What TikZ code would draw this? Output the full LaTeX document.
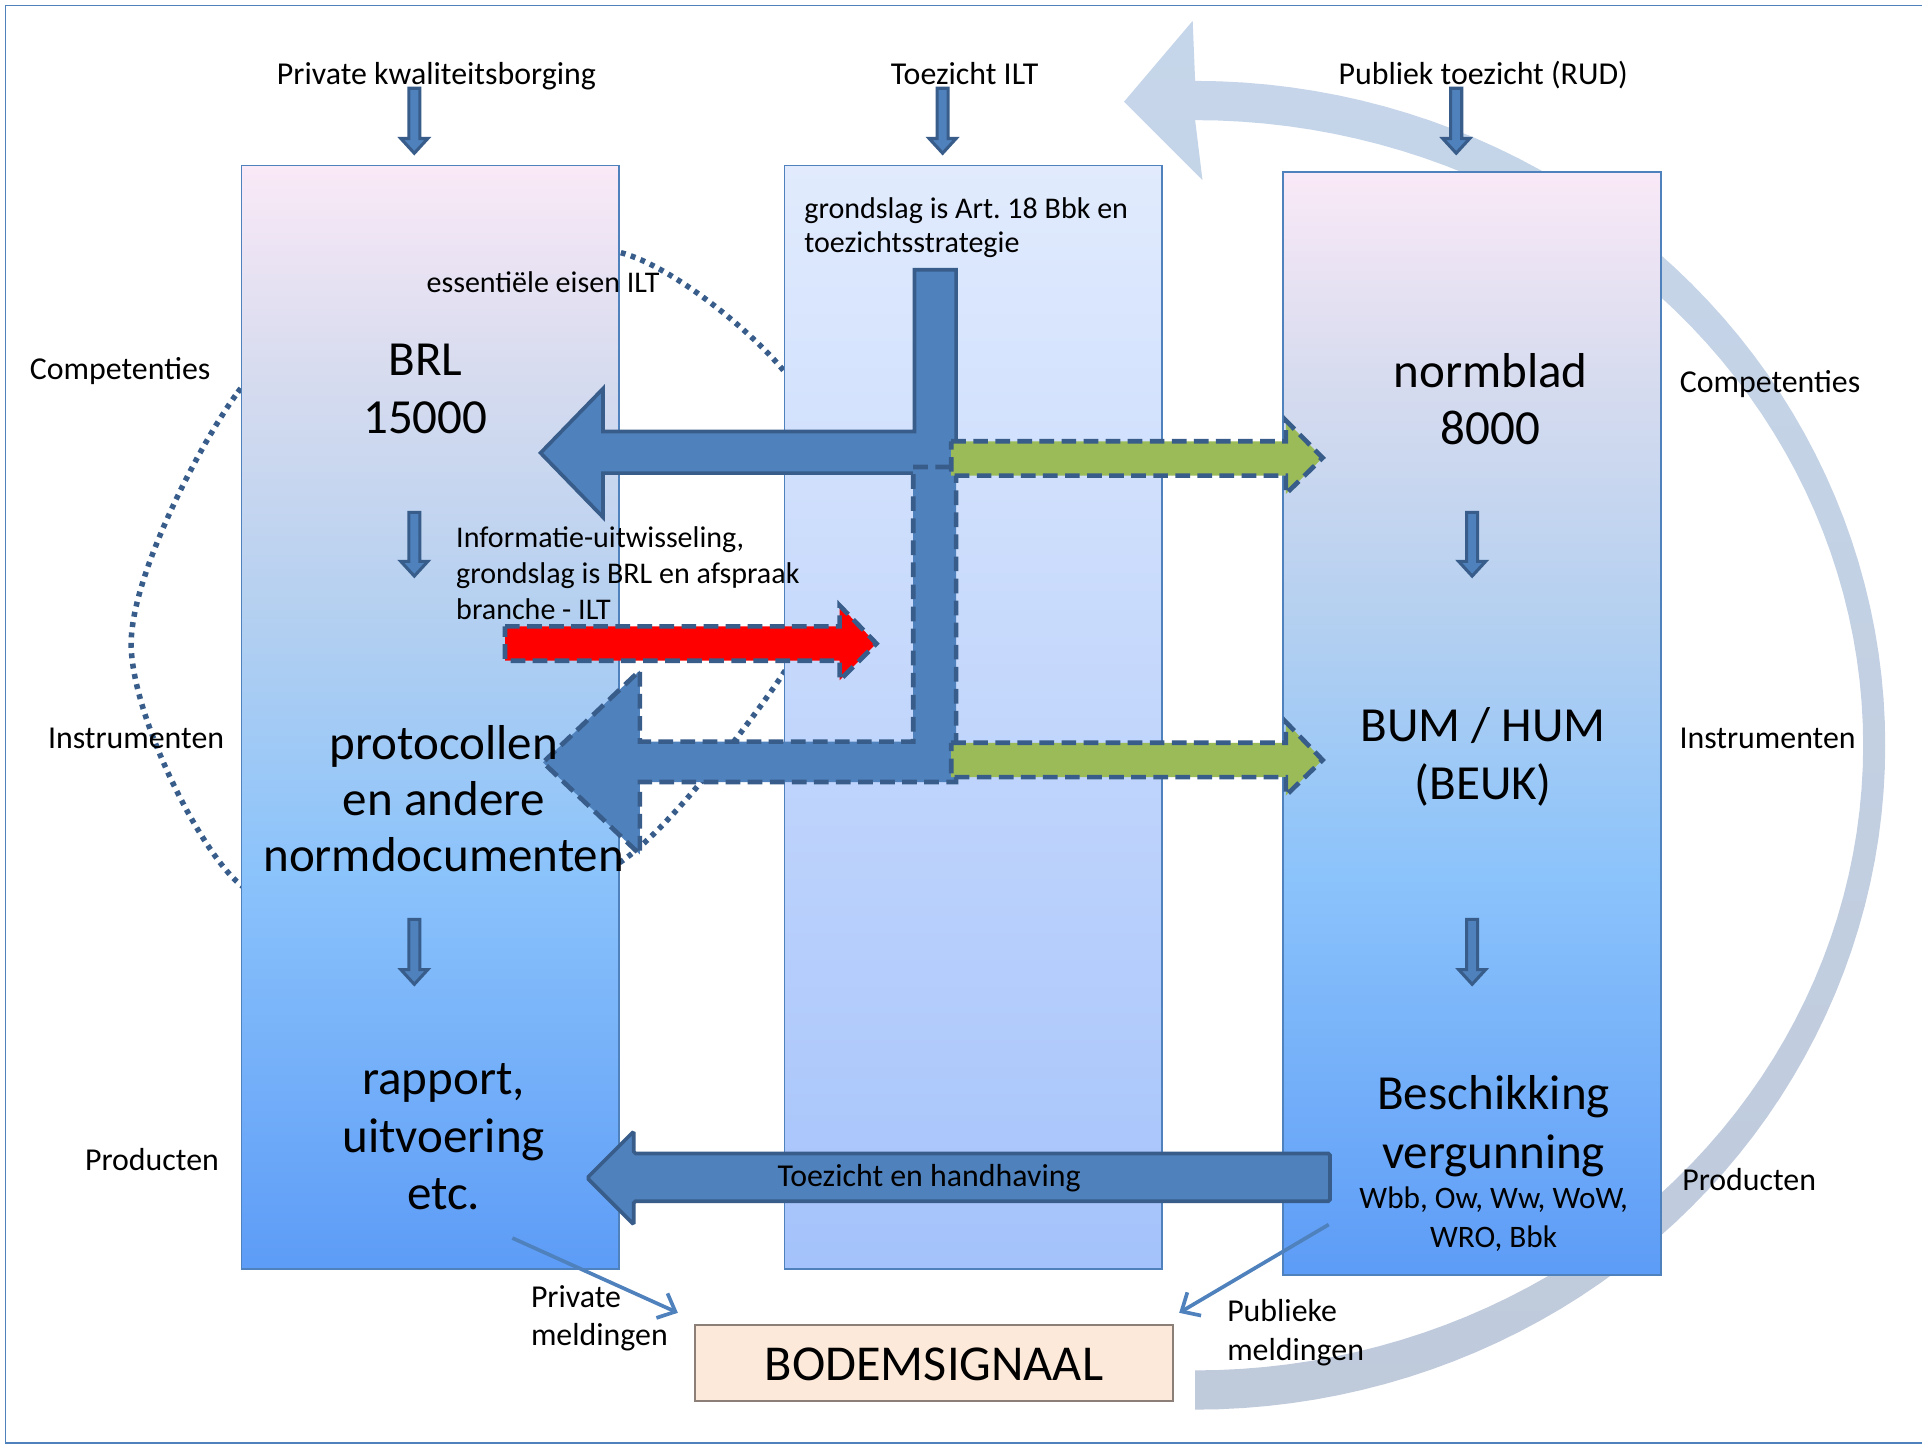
\documentclass[tikz,border=0pt]{standalone}
\usepackage{fontspec}
\setmainfont{Carlito}
\usetikzlibrary{arrows.meta}
\frenchspacing
\definecolor{boxblue}{HTML}{4F81BD}
\definecolor{arrline}{HTML}{385D8A}
\definecolor{grn}{HTML}{9BBB59}
\definecolor{bandtop}{HTML}{C6D6EA}
\definecolor{bandbot}{HTML}{BFCADB}
\definecolor{bodem}{HTML}{FDE9D9}
\definecolor{bodemline}{HTML}{8C7F78}
\definecolor{g1}{HTML}{5D9CF7}
\definecolor{g2}{HTML}{8BC3FB}
\definecolor{g3}{HTML}{B5D0F0}
\definecolor{g4}{HTML}{D8DCEF}
\definecolor{g5}{HTML}{FAE9F7}
\definecolor{m1}{HTML}{A4C2FB}
\definecolor{m2}{HTML}{E1EBFD}
\pgfdeclareverticalshading{sideshade}{100bp}{color(0bp)=(g1); color(25bp)=(g1); color(43bp)=(g2); color(55bp)=(g3); color(66bp)=(g4); color(75bp)=(g5); color(100bp)=(g5)}
\pgfdeclareverticalshading{midshade}{100bp}{color(0bp)=(m1); color(25bp)=(m1); color(75bp)=(m2); color(100bp)=(m2)}
\newcommand{\dnarrow}[3]{%
  \filldraw[smarr, shift={(#1,#2)}] (-4.5,0) -- (4.5,0) -- (4.5,{#3-#2-12}) -- (11,{#3-#2-12}) -- (0,{#3-#2}) -- (-11,{#3-#2-12}) -- (-4.5,{#3-#2-12}) -- cycle;}
\tikzset{
  lbl/.style={font=\fontsize{26}{31}\selectfont, anchor=base, inner sep=0pt},
  sml/.style={font=\fontsize{24.5}{29}\selectfont, anchor=base, inner sep=0pt},
  big/.style={font=\fontsize{40}{47}\selectfont, anchor=base, align=center, inner sep=0pt},
  colbox/.style={draw=boxblue, line width=1.5pt},
  smarr/.style={fill=boxblue, draw=arrline, line width=2.5pt},
  solidarr/.style={fill=boxblue, draw=arrline, line width=3pt},
  dasharr/.style={draw=arrline, line width=3.8pt, dash pattern=on 12pt off 6pt},
  dotline/.style={draw=arrline, line width=4.5pt, dash pattern=on 4pt off 4.5pt},
  meld/.style={draw=boxblue, line width=3pt, -{Straight Barb[length=12pt, width=22pt, line width=3pt]}}
}
\begin{document}
\begin{tikzpicture}[x=1pt,y=-1pt]
\useasboundingbox (0,0) rectangle (1568,1180);
\fill[white] (0,0) rectangle (1568,1180);
% frame
\draw[boxblue, line width=1.5pt] (1568,4.5) -- (4.5,4.5) -- (4.5,1177) -- (1568,1177);
% big circular band arrow
\shade[top color=bandtop, bottom color=bandbot]
  plot[domain=-90:90, samples=91, variable=\t] ({975+563*cos(\t)},{608+542*sin(\t)})
  -- plot[domain=90:-90, samples=91, variable=\t] ({975+545*cos(\t)},{608+510*sin(\t)})
  -- (981,147) -- (917,83) -- (973,17) -- cycle;
% dotted curve
\draw[dotline] plot[smooth cycle] coordinates {(107,525) (194,320) (330,222) (506,206) (639,302) (690,430) (638,551) (508,702) (350,752) (193,719)};
% columns
\shade[shading=sideshade] (197,135) rectangle (505,1035);
\draw[colbox] (197,135) rectangle (505,1035);
\shade[shading=midshade] (640,135) rectangle (948,1035);
\draw[colbox] (640,135) rectangle (948,1035);
\shade[shading=sideshade] (1047,140) rectangle (1355,1040);
\draw[colbox] (1047,140) rectangle (1355,1040);
% blue T arrows
\filldraw[solidarr] (746,220) -- (780,220) -- (780,386) -- (492,386) -- (492,422) -- (441,369.5) -- (492,317) -- (492,352) -- (746,352) -- cycle;
\fill[boxblue] (745,381) -- (780,381) -- (780,638) -- (522,638) -- (522,697) -- (443,622) -- (522,547) -- (522,605) -- (745,605) -- cycle;
\draw[dasharr] (745,381) -- (780,381) -- (780,638) -- (522,638) -- (522,697) -- (443,622) -- (522,547) -- (522,605) -- (745,605) -- cycle;
% green arrows
\fill[grn] (776,360) -- (1049,360) -- (1049,343) -- (1079,373.5) -- (1049,403) -- (1049,388) -- (776,388) -- cycle;
\draw[dasharr] (776,360) -- (1049,360) -- (1049,343) -- (1079,373.5) -- (1049,403) -- (1049,388) -- (776,388) -- cycle;
\fill[grn] (776,606) -- (1049,606) -- (1049,589) -- (1079,620) -- (1049,649) -- (1049,634) -- (776,634) -- cycle;
\draw[dasharr] (776,606) -- (1049,606) -- (1049,589) -- (1079,620) -- (1049,649) -- (1049,634) -- (776,634) -- cycle;
% red arrow
\fill[red] (412,511) -- (685,511) -- (685,494) -- (715,525) -- (685,555) -- (685,539) -- (412,539) -- cycle;
\draw[dasharr] (412,511) -- (685,511) -- (685,494) -- (715,525) -- (685,555) -- (685,539) -- (412,539) -- cycle;
% small down arrows
\dnarrow{338}{72}{125}
\dnarrow{769}{72}{125}
\dnarrow{1188}{72}{125}
\dnarrow{338}{418}{470}
\dnarrow{338}{750}{803}
\dnarrow{1201}{418}{470}
\dnarrow{1201}{750}{803}
% toezicht en handhaving arrow
\filldraw[solidarr, rounded corners=1.5pt] (1085,941) -- (1085,980) -- (517,980) -- (517,999) -- (479,961) -- (517,923) -- (517,941) -- cycle;
% bodemsignaal
\node[draw=bodemline, fill=bodem, line width=1.2pt, minimum width=390pt, minimum height=62pt, inner sep=0pt] (bodem) at (762,1112) {};
\node[font=\fontsize{41}{49}\selectfont, anchor=base, inner sep=0pt] (bodemtxt) at (762,1126) {BODEMSIGNAAL};
\coordinate (privfrom) at (418,1010);
\coordinate (privto) at (553,1071);
\coordinate (pubfrom) at (1084,999);
\coordinate (pubto) at (962,1071);
\draw[meld] (privfrom) -- (privto);
\draw[meld] (pubfrom) -- (pubto);
% texts (multi-line nodes: base anchor = last line baseline)
\node[lbl] (tPriv) at (356,69) {Private kwaliteitsborging};
\node[lbl] (tILT) at (787,69) {Toezicht ILT};
\node[lbl] (tRUD) at (1210,69) {Publiek toezicht (RUD)};
\node[lbl] (cL) at (98,310) {Competenties};
\node[lbl] (iL) at (111,611) {Instrumenten};
\node[lbl] (pL) at (124,955) {Producten};
\node[lbl] (cR) at (1444,320) {Competenties};
\node[lbl] (iR) at (1442,611) {Instrumenten};
\node[lbl] (pR) at (1427,971) {Producten};
\node[sml] (ess) at (443,239) {essentiële eisen ILT};
\node[sml, anchor=base west, align=left] (info) at (372,505) {Informatie-uitwisseling,\\grondslag is BRL en afspraak\\branche - ILT};
\node[sml, anchor=base west, align=left, font=\fontsize{24.5}{28}\selectfont] (grond) at (656,206) {grondslag is Art. 18 Bbk en\\toezichtsstrategie};
\node[big] (brl) at (347,353.5) {BRL\\15000};
\node[big, font=\fontsize{40}{45.5}\selectfont] (prot) at (362,711) {protocollen\\en andere\\normdocumenten};
\node[big] (rapp) at (362,987) {rapport,\\uitvoering\\etc.};
\node[big] (norm) at (1216,363) {normblad\\8000};
\node[big] (bum) at (1210,652) {BUM / HUM\\(BEUK)};
\node[big, font=\fontsize{40}{47.5}\selectfont] (besch) at (1218.5,953) {Beschikking\\vergunning};
\node[sml, align=center, font=\fontsize{25.5}{32.5}\selectfont] (wbb) at (1218.5,1018) {Wbb, Ow, Ww, WoW,\\WRO, Bbk};
\node[lbl] (toez) at (758,968) {Toezicht en handhaving};
\node[lbl, anchor=base west, align=left, font=\fontsize{26}{31}\selectfont] (privm) at (433,1098) {Private\\meldingen};
\node[lbl, anchor=base west, align=left, font=\fontsize{26}{31.5}\selectfont] (pubm) at (1001,1109.5) {Publieke\\meldingen};
\end{tikzpicture}
\end{document}
